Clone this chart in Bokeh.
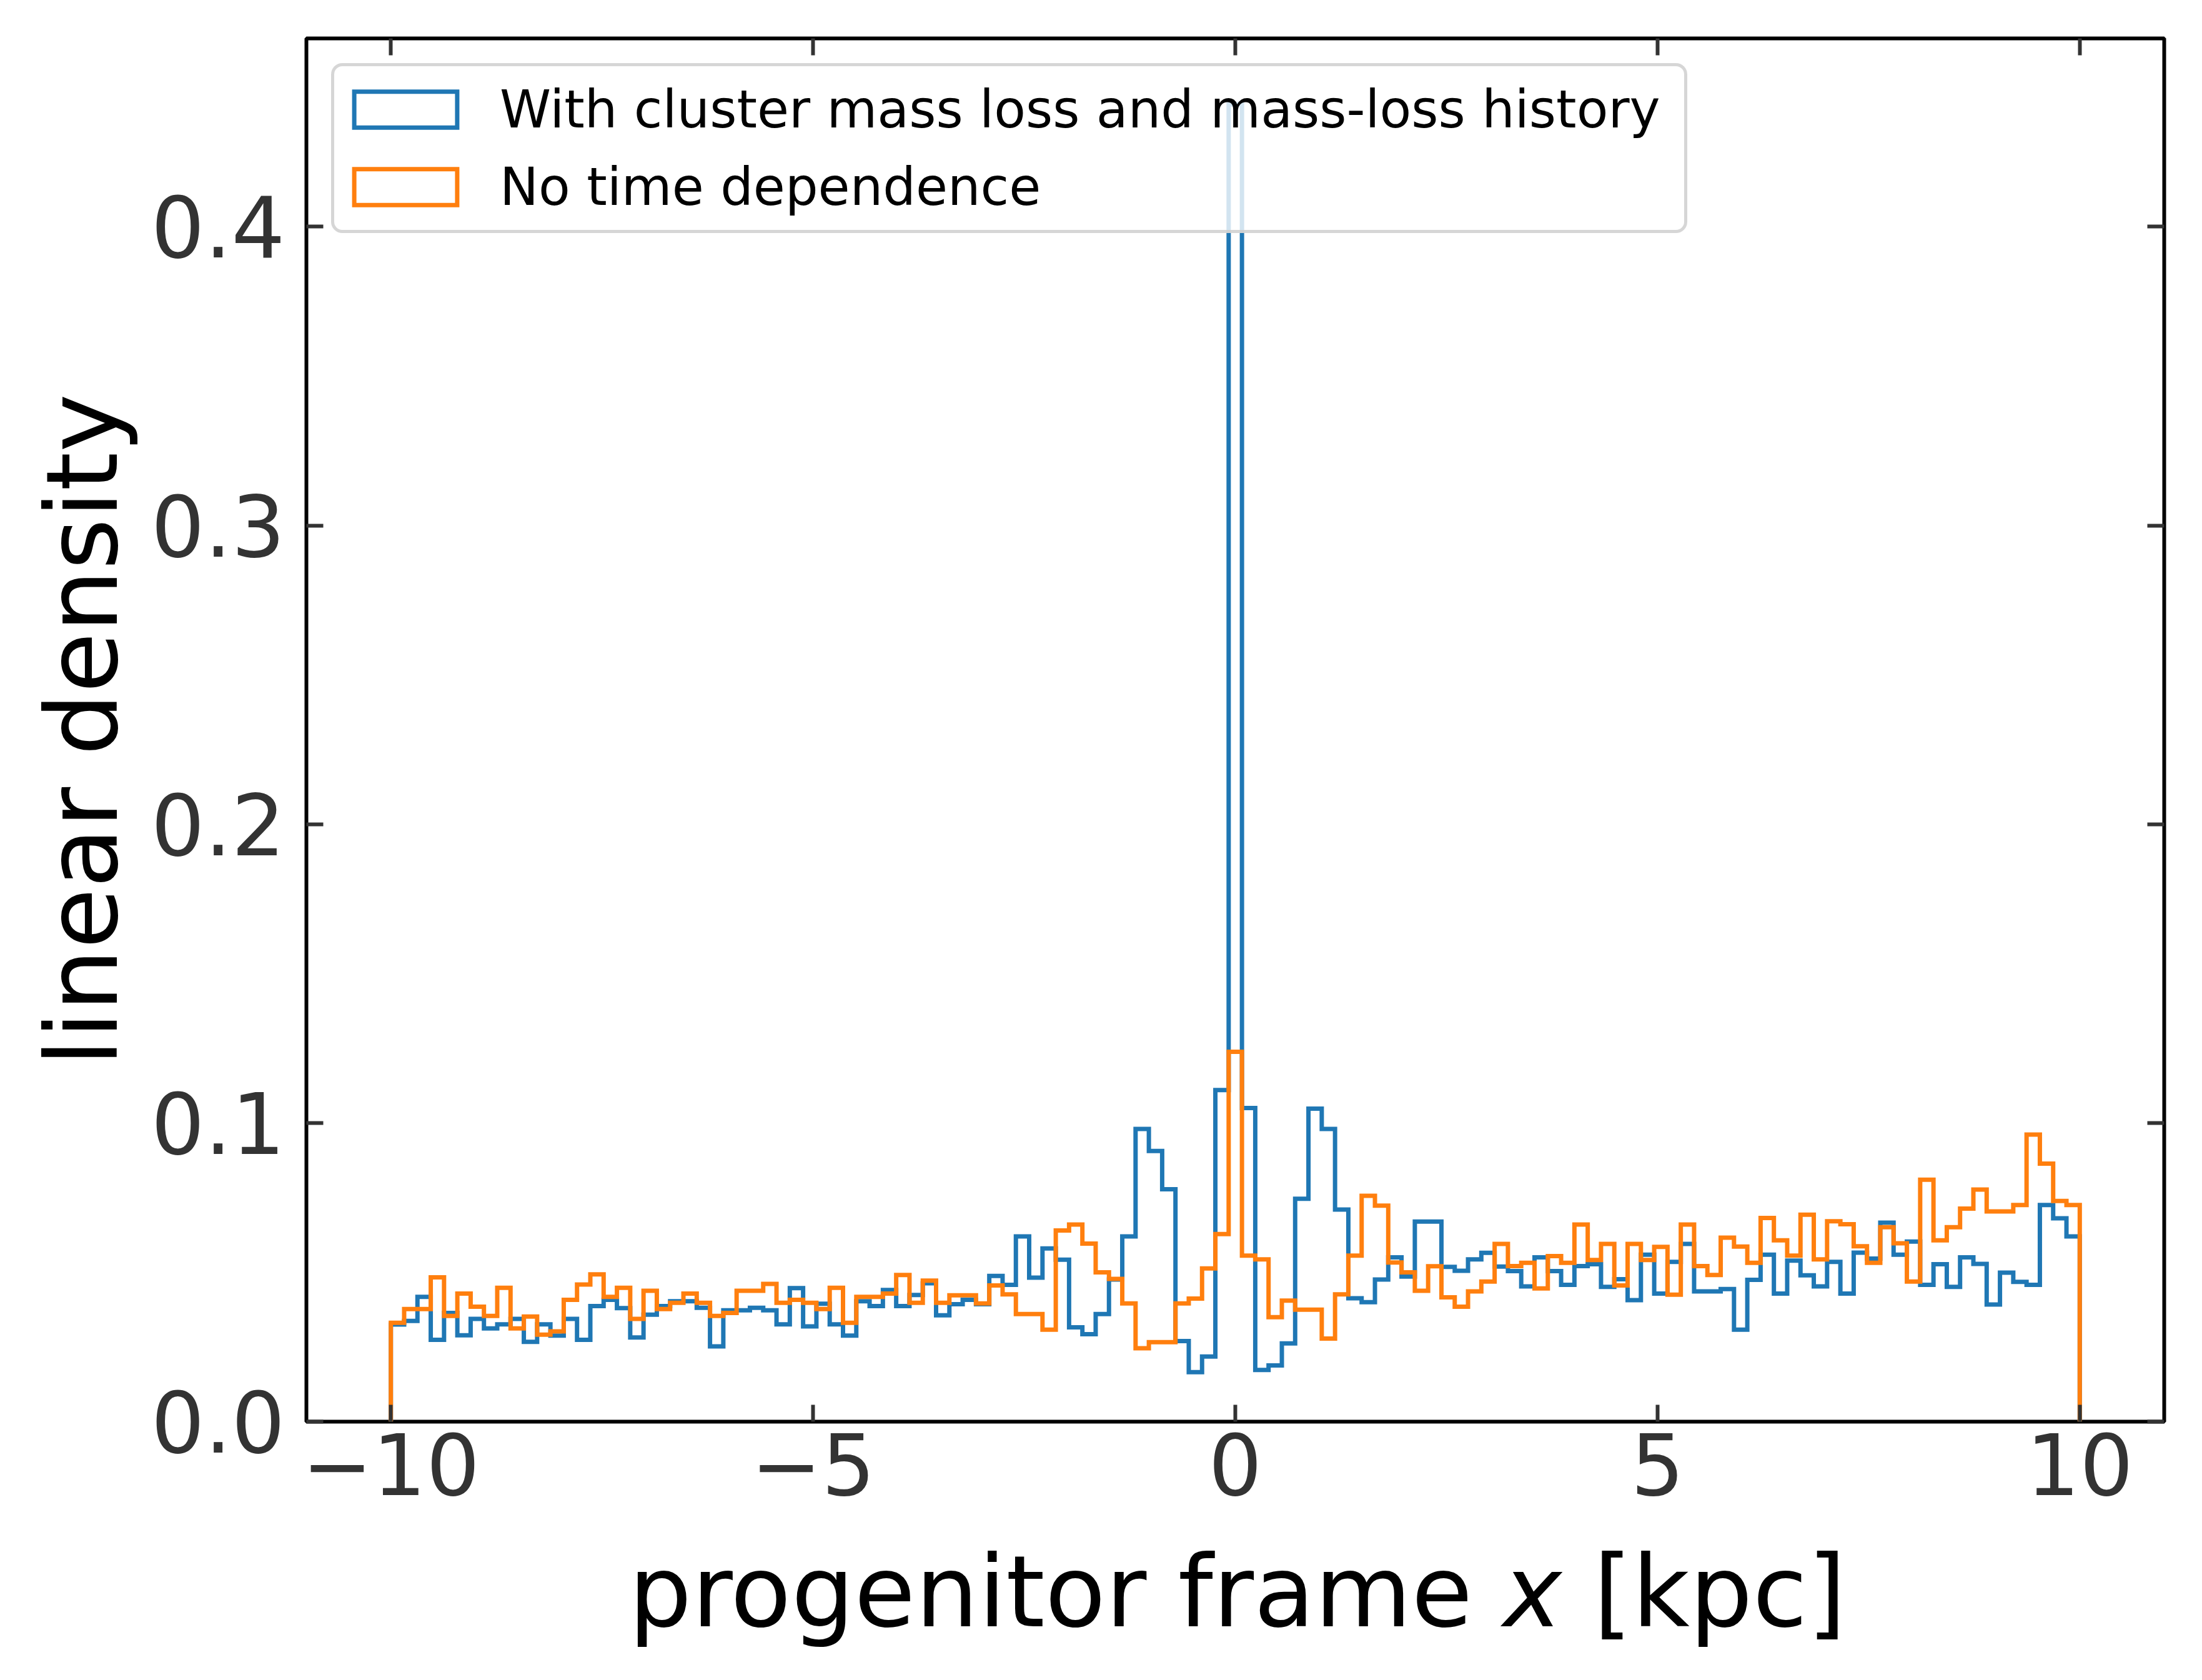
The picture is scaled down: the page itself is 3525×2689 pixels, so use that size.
import numpy as np
from bokeh.plotting import figure
from bokeh.layouts import column
from bokeh.models import (Range1d, LinearAxis, FixedTicker, Legend, LegendItem)
from bokeh.core.properties import value
from bokeh.embed import file_html
from bokeh.resources import INLINE

# ---------------- data ----------------
x_min, x_max = -10.0, 10.0
x_ticks = [-10, -5, 0, 5, 10]
x_tick_labels = ["\u221210", "\u22125", "0", "5", "10"]
y_ticks = [0.0, 0.1, 0.2, 0.3, 0.4]
y_tick_labels = ["0.0", "0.1", "0.2", "0.3", "0.4"]

series_names = ["With cluster mass loss and mass-loss history", "No time dependence"]
x_label_parts = ["progenitor frame", "x", "[kpc]"]
y_label = "linear density"

density_mass_loss = [
    0.0325, 0.0337, 0.0418, 0.0274, 0.0364, 0.0289, 0.0344, 0.0312, 0.0326, 0.0344,
    0.0267, 0.0326, 0.0288, 0.0344, 0.0274, 0.0387, 0.0408, 0.0380, 0.0282, 0.0358,
    0.0387, 0.0403, 0.0403, 0.0381, 0.0252, 0.0373, 0.0373, 0.0381, 0.0373, 0.0326,
    0.0447, 0.0319, 0.0395, 0.0326, 0.0288, 0.0403, 0.0387, 0.0441, 0.0387, 0.0424,
    0.0463, 0.0356, 0.0393, 0.0408, 0.0393, 0.0488, 0.0458, 0.0620, 0.0482, 0.0580,
    0.0542, 0.0316, 0.0293, 0.0360, 0.0476, 0.0620, 0.0980, 0.0906, 0.0778, 0.0270,
    0.0166, 0.0218, 0.1110, 0.4410, 0.1050, 0.0173, 0.0188, 0.0262, 0.0746, 0.1048,
    0.0980, 0.0710, 0.0413, 0.0400, 0.0476, 0.0550, 0.0486, 0.0670, 0.0670, 0.0518,
    0.0505, 0.0543, 0.0565, 0.0519, 0.0504, 0.0453, 0.0550, 0.0504, 0.0458, 0.0521,
    0.0527, 0.0451, 0.0477, 0.0407, 0.0559, 0.0429, 0.0535, 0.0595, 0.0436, 0.0436,
    0.0444, 0.0308, 0.0475, 0.0559, 0.0429, 0.0539, 0.0490, 0.0453, 0.0535, 0.0429,
    0.0566, 0.0546, 0.0666, 0.0559, 0.0603, 0.0458, 0.0527, 0.0451, 0.0550, 0.0528,
    0.0392, 0.0499, 0.0468, 0.0458, 0.0725, 0.0681, 0.0620,
]

density_static = [
    0.0331, 0.0377, 0.0377, 0.0483, 0.0354, 0.0429, 0.0385, 0.0354, 0.0448, 0.0312,
    0.0352, 0.0291, 0.0302, 0.0408, 0.0459, 0.0493, 0.0418, 0.0448, 0.0344, 0.0438,
    0.0377, 0.0398, 0.0429, 0.0398, 0.0354, 0.0364, 0.0438, 0.0438, 0.0461, 0.0398,
    0.0408, 0.0398, 0.0377, 0.0448, 0.0331, 0.0418, 0.0418, 0.0429, 0.0491, 0.0398,
    0.0472, 0.0398, 0.0423, 0.0423, 0.0396, 0.0456, 0.0426, 0.0360, 0.0360, 0.0308,
    0.0640, 0.0660, 0.0596, 0.0500, 0.0478, 0.0396, 0.0246, 0.0266, 0.0266, 0.0396,
    0.0412, 0.0513, 0.0628, 0.1238, 0.0556, 0.0543, 0.0350, 0.0405, 0.0375, 0.0375,
    0.0278, 0.0426, 0.0556, 0.0756, 0.0723, 0.0533, 0.0500, 0.0438, 0.0520, 0.0416,
    0.0385, 0.0436, 0.0469, 0.0595, 0.0521, 0.0532, 0.0446, 0.0554, 0.0532, 0.0660,
    0.0541, 0.0595, 0.0456, 0.0595, 0.0541, 0.0585, 0.0425, 0.0660, 0.0521, 0.0491,
    0.0616, 0.0586, 0.0532, 0.0682, 0.0607, 0.0556, 0.0693, 0.0543, 0.0671, 0.0661,
    0.0587, 0.0532, 0.0651, 0.0597, 0.0469, 0.0810, 0.0607, 0.0651, 0.0713, 0.0777,
    0.0704, 0.0704, 0.0725, 0.0961, 0.0864, 0.0739, 0.0725,
]

BLUE = "#1f77b4"
ORANGE = "#ff7f0e"
FONT = "DejaVu Sans"

FRAME_W, FRAME_H = 2974, 2214
LEFT, RIGHT, TOP, BOTTOM = 490, 61, 61, 176
P_H = TOP + FRAME_H + BOTTOM
LABEL_H = 2689 - P_H
LABEL_BASELINE = 2602          # page y of the x-label baseline
XLABEL_PX = 159


def step_outline(vals):
    vals = np.asarray(vals, dtype=float)
    edges = np.linspace(x_min, x_max, len(vals) + 1)
    xs = np.repeat(edges, 2)
    ys = np.concatenate(([0.0], np.repeat(vals, 2), [0.0]))
    return xs, ys


y_top = max(max(density_mass_loss), max(density_static)) * 1.05

p = figure(frame_width=FRAME_W, frame_height=FRAME_H,
           x_range=Range1d(-11, 11), y_range=Range1d(0, y_top),
           output_backend="svg", toolbar_location=None,
           min_border_left=LEFT, min_border_right=RIGHT,
           min_border_top=TOP, min_border_bottom=BOTTOM,
           background_fill_color="white", border_fill_color="white")
p.title.visible = False
p.xgrid.visible = False
p.ygrid.visible = False
p.outline_line_color = "black"
p.outline_line_width = 6
p.outline_line_alpha = 1.0

xb, yb = step_outline(density_mass_loss)
xo, yo = step_outline(density_static)
p.line(xb, yb, line_color=BLUE, line_width=7, line_join="miter")
p.line(xo, yo, line_color=ORANGE, line_width=7, line_join="miter")

bottom_ax = p.below[0]
left_ax = p.left[0]
top_ax = LinearAxis()
right_ax = LinearAxis()
p.add_layout(top_ax, "above")
p.add_layout(right_ax, "right")

for ax in [bottom_ax, top_ax]:
    ax.ticker = FixedTicker(ticks=x_ticks)
    ax.major_label_overrides = {t: l for t, l in zip(x_ticks, x_tick_labels)}
for ax in [left_ax, right_ax]:
    ax.ticker = FixedTicker(ticks=y_ticks)
    ax.major_label_overrides = {t: l for t, l in zip(y_ticks, y_tick_labels)}

for ax in [bottom_ax, left_ax, top_ax, right_ax]:
    ax.axis_line_color = None
    ax.major_tick_in = 27
    ax.major_tick_out = 0
    ax.minor_tick_in = 0
    ax.minor_tick_out = 0
    ax.major_tick_line_color = "#333333"
    ax.major_tick_line_width = 6
    ax.major_label_text_font = FONT
    ax.major_label_text_font_size = "135px"
    ax.major_label_text_color = "#333333"

for ax in [top_ax, right_ax]:
    ax.major_label_text_font_size = "1px"
    ax.major_label_text_color = None
    ax.major_label_standoff = 0

bottom_ax.major_label_standoff = 18
left_ax.major_label_standoff = 34

left_ax.axis_label = y_label
left_ax.axis_label_text_font = FONT
left_ax.axis_label_text_font_size = "158px"
left_ax.axis_label_text_font_style = "normal"
left_ax.axis_label_text_color = "black"
left_ax.axis_label_standoff = 15

# legend with outlined-rectangle handles (dummy, never-visible quads)
nan = [float("nan")]
hb = p.quad(left=nan, right=nan, bottom=nan, top=nan, fill_color=None,
            line_color=BLUE, line_width=7, line_join="miter")
ho = p.quad(left=nan, right=nan, bottom=nan, top=nan, fill_color=None,
            line_color=ORANGE, line_width=7, line_join="miter")
legend = Legend(items=[LegendItem(label=series_names[0], renderers=[hb]),
                       LegendItem(label=series_names[1], renderers=[ho])],
                location="top_left", margin=40, padding=11, spacing=8,
                glyph_width=206, glyph_height=72, label_height=116,
                label_width=1885, label_standoff=48,
                label_text_font=FONT, label_text_font_size="83px",
                label_text_color="black",
                background_fill_color="white", background_fill_alpha=0.8,
                border_line_color="#cccccc", border_line_width=5,
                border_line_alpha=0.8)
if "border_radius" in Legend.properties():
    legend.border_radius = 18
p.add_layout(legend)

# x-axis label strip (shares the x scale), with an italic "x"
p2 = figure(frame_width=FRAME_W, frame_height=LABEL_H,
            x_range=p.x_range, y_range=Range1d(0, LABEL_H),
            x_axis_type=None, y_axis_type=None,
            output_backend="svg", toolbar_location=None,
            min_border_left=LEFT, min_border_right=RIGHT,
            min_border_top=0, min_border_bottom=0,
            background_fill_color="white", border_fill_color="white")
p2.title.visible = False
p2.outline_line_color = None
base_y = LABEL_H - (LABEL_BASELINE - P_H)
# vertical middle of the DejaVu text box sits 0.346 em above the baseline
mid_y = base_y + (0.928 + 0.236) / 2 * XLABEL_PX - 0.236 * XLABEL_PX
for txt, xpos, align, style in [(x_label_parts[0], 2.81, "right", "normal"),
                                (x_label_parts[1], 3.17, "left", "italic"),
                                (x_label_parts[2], 4.24, "left", "normal")]:
    p2.text(x=[xpos], y=[mid_y], text=[txt], text_align=align,
            text_baseline="middle", text_font=value(FONT),
            text_font_size=f"{XLABEL_PX}px", text_font_style=style,
            text_color="black")

layout = column(p, p2, spacing=0)
open("out.html", "w").write(file_html(layout, INLINE))
